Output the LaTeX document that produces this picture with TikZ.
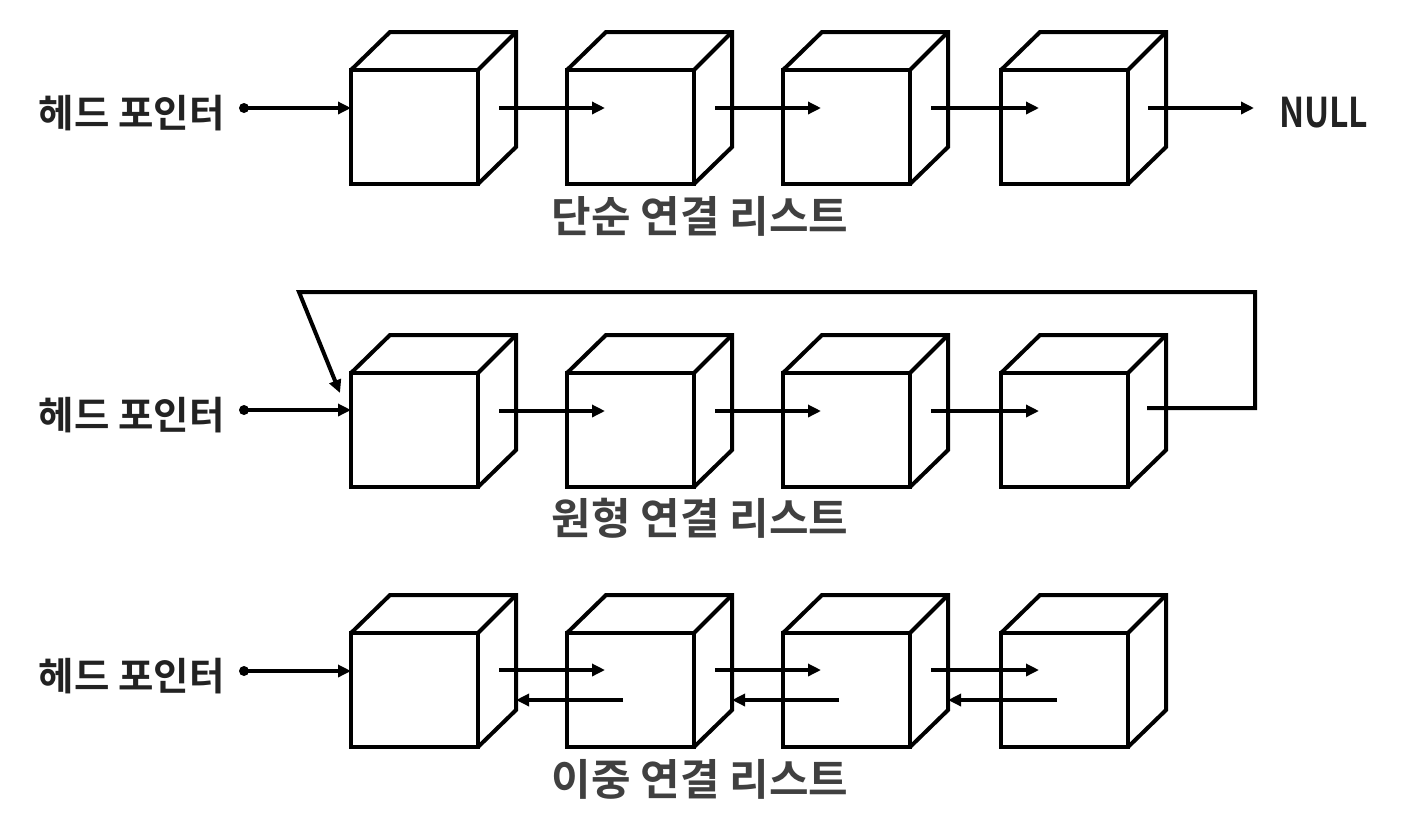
\documentclass[tikz,border=0pt]{standalone}
\usepackage{fontspec}
\setmainfont{Noto Sans CJK KR}[BoldFont={* Bold}]
\newfontfamily\nullfnt[FakeStretch=0.82]{Noto Sans CJK KR Bold}
\usetikzlibrary{arrows.meta,calc}
\definecolor{txtdark}{HTML}{222222}
\definecolor{txtgray}{HTML}{404040}
\tikzset{
  line/.style={line width=4pt},
  face/.style={draw, line width=4pt, minimum width=127pt, minimum height=114pt, inner sep=0pt, outer sep=0pt, anchor=north west},
  ptr/.style={line width=4pt, -{Triangle[length=13pt,width=12pt]}},
  headlbl/.style={font=\bfseries\fontsize{38.5}{44}\selectfont, text=txtdark, anchor=east, inner sep=0pt},
  title/.style={font=\bfseries\fontsize{43}{50}\selectfont, text=txtgray, inner sep=0pt},
}
\newcommand{\mkcube}[3]{%
  \node[face] (#1) at (#2,#3) {};
  \draw[line, line join=miter] (#1.north west) -- ++(39pt,38pt) -- ++(126pt,0) -- ++(0,-115pt) -- (#1.south east);
  \draw[line] (#1.north east) -- ++(38pt,38pt);
}
\begin{document}
\begin{tikzpicture}[x=1pt,y=-1pt]
\useasboundingbox (0,0) rectangle (1404,828);
% ---------- row 1
\foreach \i/\x in {1/351,2/567,3/783,4/1001}{\mkcube{a\i}{\x}{70}}
\node[headlbl] (h1) at (225,113) {헤드 포인터};
\coordinate (d1) at (244,108);
\fill (d1) circle (5pt);
\draw[ptr] (d1) -- (a1.west |- d1);
\foreach \i/\j in {1/2,2/3,3/4}{
  \draw[ptr] ($(a\i.north east)+(21,38)$) -- ($(a\j.north west)+(38,38)$);
}
\node[font=\nullfnt\fontsize{41}{46}\selectfont, text=txtdark, anchor=west, inner sep=0pt] (null) at (1279,113) {NULL};
\draw[ptr] ($(a4.north east)+(20,38)$) -- ($(null.west)+(-25,-5)$);
\node[title] (t1) at (700,216) {단순 연결 리스트};
% ---------- row 2
\foreach \i/\x in {1/351,2/567,3/783,4/1001}{\mkcube{b\i}{\x}{373}}
\node[headlbl] (h2) at (225,415) {헤드 포인터};
\coordinate (d2) at (244,410);
\fill (d2) circle (5pt);
\draw[ptr] (d2) -- (b1.west |- d2);
\foreach \i/\j in {1/2,2/3,3/4}{
  \draw[ptr] ($(b\i.north east)+(21,38)$) -- ($(b\j.north west)+(38,38)$);
}
\coordinate (r1) at (1255,408);
\coordinate (r2) at (1255,292);
\coordinate (r3) at (299,292);
\coordinate (r4) at (340,393);
\draw[line, line join=miter, -{Triangle[length=13pt,width=12pt]}] ($(b4.north east)+(19,35)$) -- (r1) -- (r2) -- (r3) -- (r4);
\node[title] (t2) at (700,518) {원형 연결 리스트};
% ---------- row 3
\foreach \i/\x in {1/351,2/567,3/783,4/1001}{\mkcube{c\i}{\x}{633}}
\node[headlbl] (h3) at (225,676) {헤드 포인터};
\coordinate (d3) at (244,671);
\fill (d3) circle (5pt);
\draw[ptr] (d3) -- (c1.west |- d3);
\foreach \i/\j in {1/2,2/3,3/4}{
  \draw[ptr] ($(c\i.north east)+(21,37)$) -- ($(c\j.north west)+(38,37)$);
  \draw[ptr] ($(c\j.north west)+(56,67)$) -- ($(c\i.north east)+(38,67)$);
}
\node[title] (t3) at (700,779) {이중 연결 리스트};
\end{tikzpicture}
\end{document}
